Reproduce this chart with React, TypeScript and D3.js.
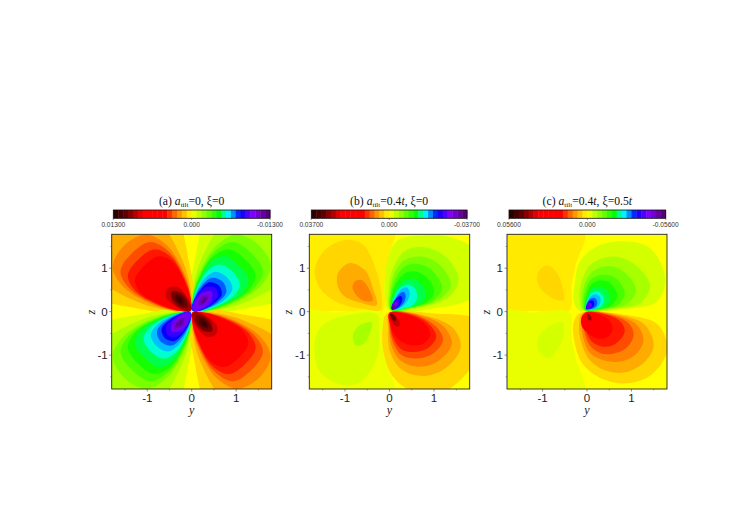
import React from "react";
import * as d3 from "d3";

// colour bar, left (+max) to right (-max)
const colorPos = [0, 0.08, 0.15, 0.19, 0.33, 0.41, 0.5, 0.59, 0.67, 0.73, 0.81, 0.89, 1];
const colorVal = ["#200000", "#600000", "#c00000", "#ff0000", "#ff0000", "#ff8800", "#ffff00", "#80ff00", "#00ff00", "#00ffff", "#0000ff", "#8000ff", "#500060"];
const BANDS = 32;

const majorTicks = [-1, 0, 1];
const minorTicks = [-1.5, -0.5, 0.5, 1.5];

const titlesA = ["(a) ", "=0, ξ=0"];
const titlesB = ["(b) ", "=0.4", ", ξ=0"];
const titlesC = ["(c) ", "=0.4", ", ξ=0.5"];
const barLabelsA = ["0.01300", "0.000", "-0.01300"];
const barLabelsB = ["0.03700", "0.000", "-0.03700"];
const barLabelsC = ["0.05600", "0.000", "-0.05600"];

// panel (a): lobe radius at each angle from the y axis, one row per band
// (first entry is the tip of the lobe next to the origin)
const anglesA = [45, 4, 10, 20, 30, 45, 60, 70, 80, 86];
const radiiA: [number, number[]][] = [
  [1, [0.03, 1.3, 2.6, 3.8, 4.2, 4.2, 4.2, 3.8, 2.6, 1.3]],
  [2, [0.03, 0.6, 1.2, 2.3, 2.9, 3, 2.9, 2.3, 1.2, 0.6]],
  [3, [0.03, 0.33, 0.85, 1.62, 2.05, 2.15, 2.05, 1.62, 0.85, 0.33]],
  [4, [0.03, 0.28, 0.72, 1.45, 1.85, 1.9, 1.85, 1.45, 0.72, 0.28]],
  [5, [0.03, 0.24, 0.62, 1.32, 1.66, 1.7, 1.66, 1.32, 0.62, 0.24]],
  [6, [0.03, 0.2, 0.53, 1.2, 1.47, 1.5, 1.47, 1.2, 0.53, 0.2]],
  [7, [0.03, 0.17, 0.44, 0.97, 1.25, 1.3, 1.25, 0.97, 0.44, 0.17]],
  [8, [0.03, 0.14, 0.35, 0.78, 1.06, 1.12, 1.06, 0.78, 0.35, 0.14]],
  [9, [0.03, 0.12, 0.28, 0.62, 0.9, 0.98, 0.9, 0.62, 0.28, 0.12]],
  [10, [0.04, 0.1, 0.23, 0.5, 0.78, 0.86, 0.78, 0.5, 0.23, 0.1]],
  [11, [0.04, 0.08, 0.19, 0.42, 0.66, 0.76, 0.66, 0.42, 0.19, 0.08]],
  [12, [0.05, 0.07, 0.16, 0.34, 0.52, 0.63, 0.52, 0.34, 0.16, 0.07]],
];

// inner blobs of panel (a), drawn in all four quadrants
const blobsA: [number, number[][]][] = [
  [13, [[0.1, 0.09], [0.12, 0.26], [0.26, 0.42], [0.42, 0.47], [0.47, 0.42], [0.4, 0.26], [0.26, 0.12]]],
  [14, [[0.17, 0.15], [0.17, 0.27], [0.26, 0.36], [0.36, 0.38], [0.38, 0.32], [0.31, 0.21], [0.23, 0.15]]],
  [15, [[0.22, 0.2], [0.22, 0.27], [0.28, 0.33], [0.33, 0.32], [0.32, 0.26], [0.27, 0.21]]],
];

type Contour = [number, number[][]];

// panel (b): level (in colour bar bands) and outline in (y, z)
const contoursB: Contour[] = [
  [0.4, [[-0.15, 0.02], [-0.12, 0.6], [-0.02, 1.3], [0.1, 1.85], [-2.2, 2.2], [-2.2, 0.02], [-1.2, 0.02]]],
  [-0.4, [[-0.15, -0.02], [-0.12, -0.6], [-0.02, -1.3], [0.1, -1.85], [-2.2, -2.2], [-2.2, -0.02], [-1.2, -0.02]]],
  [1, [[-0.2, 0.04], [-0.17, 0.31], [-0.29, 0.92], [-0.59, 1.54], [-1, 1.65], [-1.45, 1.42], [-1.68, 0.96], [-1.56, 0.54], [-1.19, 0.23], [-0.59, 0.06]]],
  [2, [[-0.29, 0.15], [-0.36, 0.5], [-0.55, 0.95], [-0.89, 1.12], [-1.15, 0.9], [-1.17, 0.62], [-1.04, 0.38], [-0.66, 0.21]]],
  [3, [[-0.38, 0.25], [-0.45, 0.5], [-0.62, 0.72], [-0.77, 0.7], [-0.83, 0.54], [-0.62, 0.27]]],
  [-1, [[-0.29, -0.06], [-0.23, -0.38], [-0.29, -1.08], [-0.66, -1.62], [-1.04, -1.69], [-1.56, -1.38], [-1.68, -0.69], [-1.49, -0.31], [-0.96, -0.09]]],
  [-2, [[-0.4, -0.25], [-0.43, -0.46], [-0.6, -0.75], [-0.76, -0.77], [-0.82, -0.55], [-0.66, -0.31]]],
  [-1, [[0, 0.03], [-0.1, 0.3], [-0.1, 0.8], [-0.02, 1.3], [0.2, 1.65], [0.75, 1.75], [1.35, 1.72], [1.9, 1.45], [2.1, 0.9], [1.9, 0.35], [1, 0.08]]],
  [-2, [[0.03, 0.03], [-0.02, 0.5], [0.08, 1], [0.35, 1.4], [0.77, 1.48], [1.25, 1.27], [1.55, 0.75], [1.35, 0.35], [0.7, 0.1]]],
  [-3, [[0.03, 0.03], [0.01, 0.45], [0.1, 0.85], [0.33, 1.18], [0.7, 1.27], [1.1, 1.1], [1.38, 0.63], [1.15, 0.3], [0.6, 0.1]]],
  [-4, [[0.04, 0.04], [0.03, 0.4], [0.13, 0.75], [0.33, 1.03], [0.62, 1.1], [0.95, 0.95], [1.18, 0.55], [1, 0.27], [0.5, 0.1]]],
  [-5, [[0.05, 0.04], [0.05, 0.35], [0.15, 0.65], [0.33, 0.88], [0.55, 0.93], [0.82, 0.8], [1, 0.47], [0.85, 0.23], [0.42, 0.09]]],
  [-6, [[0.05, 0.05], [0.06, 0.3], [0.17, 0.55], [0.33, 0.72], [0.5, 0.76], [0.7, 0.65], [0.82, 0.38], [0.7, 0.19], [0.35, 0.08]]],
  [-7, [[0.06, 0.05], [0.08, 0.25], [0.18, 0.48], [0.32, 0.6], [0.46, 0.62], [0.58, 0.52], [0.62, 0.32], [0.52, 0.15], [0.28, 0.07]]],
  [-8, [[0.06, 0.05], [0.08, 0.2], [0.16, 0.38], [0.27, 0.52], [0.38, 0.56], [0.45, 0.46], [0.42, 0.28], [0.3, 0.13], [0.15, 0.05]]],
  [-9, [[0.06, 0.05], [0.07, 0.17], [0.14, 0.3], [0.23, 0.42], [0.32, 0.45], [0.36, 0.37], [0.33, 0.22], [0.22, 0.1], [0.12, 0.05]]],
  [-10, [[0.06, 0.05], [0.06, 0.15], [0.12, 0.26], [0.19, 0.34], [0.26, 0.36], [0.29, 0.3], [0.25, 0.17], [0.16, 0.08]]],
  [-11, [[0.06, 0.05], [0.05, 0.13], [0.1, 0.23], [0.16, 0.28], [0.21, 0.29], [0.23, 0.24], [0.2, 0.14], [0.13, 0.07]]],
  [-13, [[0.05, 0.05], [0.05, 0.12], [0.08, 0.19], [0.13, 0.22], [0.17, 0.22], [0.17, 0.16], [0.12, 0.08]]],
  [-15, [[0.05, 0.06], [0.06, 0.12], [0.1, 0.16], [0.13, 0.14], [0.11, 0.08]]],
  [1, [[-0.05, -0.03], [-0.15, -0.35], [-0.14, -0.9], [0.08, -1.5], [0.55, -1.85], [1.2, -1.85], [1.75, -1.4], [2.1, -0.8], [2, -0.2], [1, -0.04]]],
  [2, [[0, -0.03], [-0.03, -0.4], [0.02, -0.95], [0.3, -1.35], [0.8, -1.48], [1.3, -1.27], [1.6, -0.8], [1.4, -0.35], [0.7, -0.07]]],
  [3, [[0, -0.03], [-0.01, -0.35], [0.05, -0.8], [0.28, -1.15], [0.68, -1.27], [1.12, -1.12], [1.4, -0.73], [1.2, -0.33], [0.65, -0.07]]],
  [4, [[0, -0.03], [0, -0.3], [0.07, -0.68], [0.27, -1], [0.6, -1.08], [0.97, -0.97], [1.2, -0.65], [1.05, -0.35], [0.6, -0.08]]],
  [5, [[0, -0.03], [0.01, -0.28], [0.08, -0.6], [0.27, -0.87], [0.55, -0.93], [0.85, -0.85], [1.05, -0.58], [0.9, -0.3], [0.55, -0.09]]],
  [6, [[0, -0.03], [0.015, -0.28], [0.1, -0.52], [0.28, -0.7], [0.55, -0.78], [0.78, -0.72], [0.92, -0.54], [0.82, -0.3], [0.5, -0.1]]],
  [9, [[0, -0.03], [0.01, -0.18], [0.08, -0.36], [0.2, -0.46], [0.31, -0.42], [0.27, -0.26], [0.14, -0.08]]],
  [11, [[0.01, -0.04], [0.03, -0.17], [0.1, -0.3], [0.19, -0.35], [0.24, -0.29], [0.17, -0.14], [0.08, -0.05]]],
  [13, [[0.02, -0.05], [0.03, -0.12], [0.08, -0.2], [0.13, -0.22], [0.15, -0.16], [0.09, -0.07]]],
];

// panel (c)
const contoursC: Contour[] = [
  [0.5, [[-0.4, 0.02], [-0.35, 0.6], [-0.25, 1.1], [-0.07, 1.85], [-2.2, 2.2], [-2.2, 0.02], [-1.2, 0.02]]],
  [-0.5, [[-0.4, -0.02], [-0.35, -0.6], [-0.25, -1.1], [-0.07, -1.85], [-2.2, -2.2], [-2.2, -0.02], [-1.2, -0.02]]],
  [1, [[-0.53, 0.27], [-0.55, 0.54], [-0.65, 0.85], [-0.87, 1.06], [-1.07, 0.96], [-1.12, 0.69], [-0.98, 0.46], [-0.68, 0.27]]],
  [-1, [[-1.12, -0.77], [-1.06, -0.54], [-0.87, -0.35], [-0.55, -0.25], [-0.53, -0.54], [-0.65, -0.85], [-0.83, -1.06], [-1.02, -1]]],
  [-1, [[-0.18, 0.03], [-0.3, 0.25], [-0.28, 0.6], [-0.16, 1.15], [0.22, 1.5], [0.82, 1.62], [1.42, 1.46], [1.76, 0.77], [1.57, 0.23], [0.82, 0.06]]],
  [-2, [[-0.1, 0.04], [-0.17, 0.3], [-0.12, 0.7], [0.1, 1.1], [0.6, 1.27], [1.05, 1.1], [1.42, 0.6], [1.2, 0.2], [0.6, 0.06]]],
  [-3, [[-0.07, 0.04], [-0.12, 0.25], [-0.07, 0.58], [0.1, 0.9], [0.48, 1.05], [0.85, 0.9], [1.1, 0.5], [0.9, 0.18], [0.45, 0.06]]],
  [-4, [[-0.05, 0.04], [-0.08, 0.22], [-0.03, 0.5], [0.1, 0.75], [0.38, 0.85], [0.67, 0.75], [0.85, 0.42], [0.7, 0.16], [0.35, 0.06]]],
  [-5, [[-0.04, 0.04], [-0.05, 0.2], [0, 0.42], [0.1, 0.63], [0.32, 0.72], [0.55, 0.63], [0.68, 0.37], [0.55, 0.14], [0.28, 0.06]]],
  [-6, [[-0.03, 0.04], [-0.03, 0.18], [0.01, 0.36], [0.1, 0.52], [0.26, 0.58], [0.43, 0.5], [0.52, 0.3], [0.42, 0.12], [0.2, 0.05]]],
  [-7, [[-0.02, 0.05], [-0.02, 0.16], [0.02, 0.3], [0.1, 0.43], [0.22, 0.47], [0.34, 0.4], [0.38, 0.25], [0.3, 0.11], [0.15, 0.06]]],
  [-8, [[-0.02, 0.05], [-0.02, 0.14], [0.02, 0.26], [0.1, 0.37], [0.2, 0.4], [0.29, 0.34], [0.3, 0.2], [0.22, 0.09], [0.1, 0.05]]],
  [-9, [[-0.02, 0.06], [-0.02, 0.13], [0.02, 0.22], [0.08, 0.3], [0.16, 0.32], [0.22, 0.26], [0.22, 0.15], [0.14, 0.08]]],
  [-10, [[-0.02, 0.06], [-0.01, 0.14], [0.03, 0.22], [0.09, 0.26], [0.15, 0.24], [0.16, 0.15], [0.09, 0.08]]],
  [-12, [[-0.01, 0.07], [0, 0.14], [0.04, 0.2], [0.09, 0.2], [0.11, 0.14], [0.06, 0.08]]],
  [-14, [[0, 0.08], [0.01, 0.13], [0.04, 0.16], [0.07, 0.14], [0.04, 0.09]]],
  [1, [[-0.15, -0.03], [-0.3, -0.25], [-0.28, -0.7], [-0.1, -1.2], [0.35, -1.55], [0.9, -1.65], [1.45, -1.45], [1.8, -0.9], [1.6, -0.3], [0.85, -0.07]]],
  [2, [[-0.1, -0.03], [-0.18, -0.3], [-0.13, -0.7], [0.05, -1.1], [0.4, -1.35], [0.85, -1.4], [1.25, -1.2], [1.5, -0.8], [1.3, -0.3], [0.7, -0.07]]],
  [3, [[-0.07, -0.03], [-0.12, -0.3], [-0.07, -0.65], [0.07, -0.95], [0.38, -1.12], [0.75, -1.15], [1.1, -0.98], [1.27, -0.65], [1.1, -0.28], [0.6, -0.07]]],
  [4, [[-0.05, -0.03], [-0.08, -0.28], [-0.03, -0.57], [0.1, -0.82], [0.35, -0.97], [0.65, -0.95], [0.92, -0.8], [1.05, -0.52], [0.92, -0.25], [0.5, -0.07]]],
  [5, [[-0.04, -0.03], [-0.05, -0.25], [0, -0.5], [0.12, -0.7], [0.33, -0.8], [0.57, -0.78], [0.77, -0.62], [0.85, -0.42], [0.72, -0.2], [0.4, -0.06]]],
  [6, [[-0.03, -0.03], [-0.12, -0.12], [-0.12, -0.33], [0.03, -0.5], [0.25, -0.62], [0.47, -0.58], [0.58, -0.4], [0.48, -0.18], [0.25, -0.06]]],
  [10, [[0, -0.04], [-0.02, -0.12], [0.02, -0.22], [0.09, -0.26], [0.14, -0.18], [0.09, -0.08]]],
  [12, [[0.01, -0.05], [0.01, -0.12], [0.04, -0.19], [0.09, -0.2], [0.1, -0.13], [0.05, -0.07]]],
];

const colorScale = d3.scaleLinear<string>().domain(colorPos).range(colorVal).interpolate(d3.interpolateRgb);
const levelColor = (k: number) => colorScale(0.5 - k / BANDS);

// four lobes of panel (a) from the one radius table
const quadrantsA = [[1, 1], [-1, 1], [-1, -1], [1, -1]];
const contoursA: Contour[] = quadrantsA.flatMap(([sy, sz]) => [
  ...radiiA.map(([k, radii]): Contour => [
    -sy * sz * k,
    anglesA.map((a, i) => [sy * radii[i] * Math.cos((a * Math.PI) / 180), sz * radii[i] * Math.sin((a * Math.PI) / 180)]),
  ]),
  ...blobsA.map(([k, pts]): Contour => [-sy * sz * k, pts.map(([py, pz]) => [sy * py, sz * pz])]),
]);

const bandIds = d3.range(BANDS);
const serif = "'Liberation Serif', serif";
const sans = "'Liberation Sans', sans-serif";
const frameTop = 234.3;
const frameBottom = 389;

function Panel({ id, left, right, barLeft, barRight, contours, labels, title }: any) {
  const x = d3.scaleLinear().domain([-1.8, 1.8]).range([left, right]);
  const y = d3.scaleLinear().domain([-1.78, 1.78]).range([frameBottom, frameTop]);
  const barX = d3.scaleBand<number>().domain(bandIds).range([barLeft, barRight]);
  const line = d3.line<number[]>().x((d) => x(d[0])).y((d) => y(d[1])).curve(d3.curveCatmullRomClosed.alpha(0.5));
  const ordered = d3.sort(contours as Contour[], (c: Contour) => Math.abs(c[0]));
  const barMid = (barLeft + barRight) / 2;

  return (
    <g>
      <text x={barMid} y={205} textAnchor="middle" fontFamily={serif} fontSize={11.7} fill="#111">
        {title[0]}
        <tspan fontStyle="italic">a</tspan>
        <tspan fontSize={7} dy={2}>tilt</tspan>
        <tspan dy={-2}>{title[1]}</tspan>
        {title[2] && <tspan fontStyle="italic">t</tspan>}
        {title[2]}
        {id === "c" && <tspan fontStyle="italic">t</tspan>}
      </text>
      {bandIds.map((b) => (
        <rect key={b} x={barX(b)} y={210} width={barX.bandwidth() + 0.4} height={8.3} fill={colorScale((b + 0.5) / BANDS)} />
      ))}
      <rect x={barLeft} y={210} width={barRight - barLeft} height={8.3} fill="none" stroke="#111" strokeWidth={0.8} />
      {[barLeft, barMid, barRight].map((p, i) => (
        <g key={i}>
          <line x1={p} x2={p} y1={218.3} y2={220} stroke="#333" strokeWidth={0.5} />
          <text x={p} y={227} textAnchor="middle" fontFamily={sans} fontSize={6.6} fill="#333">{labels[i]}</text>
        </g>
      ))}

      <clipPath id={`clip-${id}`}>
        <rect x={left} y={frameTop} width={right - left} height={frameBottom - frameTop} />
      </clipPath>
      <g clipPath={`url(#clip-${id})`}>
        <rect x={left} y={frameTop} width={right - left} height={frameBottom - frameTop} fill={levelColor(0)} />
        {ordered.map(([k, pts]: Contour, i: number) => (
          <path key={i} d={line(pts) || ""} fill={levelColor(k)} />
        ))}
      </g>
      <rect x={left} y={frameTop} width={right - left} height={frameBottom - frameTop} fill="none" stroke="#222" strokeWidth={0.9} />

      {majorTicks.map((t) => (
        <g key={t}>
          <line x1={x(t)} x2={x(t)} y1={frameBottom} y2={frameBottom + 2.5} stroke="#444" strokeWidth={0.6} />
          <line x1={left} x2={left - 2.5} y1={y(t)} y2={y(t)} stroke="#444" strokeWidth={0.6} />
          <text x={x(t)} y={402} textAnchor="middle" fontFamily={sans} fontSize={11.5} fill="#222">{t}</text>
          <text x={left - 4} y={y(t) + 4} textAnchor="end" fontFamily={sans} fontSize={11.5} fill="#222">{t}</text>
        </g>
      ))}
      {minorTicks.map((t) => (
        <g key={t}>
          <line x1={x(t)} x2={x(t)} y1={frameBottom} y2={frameBottom + 1.5} stroke="#444" strokeWidth={0.5} />
          <line x1={left} x2={left - 1.5} y1={y(t)} y2={y(t)} stroke="#444" strokeWidth={0.5} />
        </g>
      ))}
      <text x={x(0)} y={414} textAnchor="middle" fontFamily={serif} fontStyle="italic" fontSize={12} fill="#222">y</text>
      <text transform={`translate(${left - 17},${y(0) + 0.5}) rotate(-90)`} textAnchor="middle" fontFamily={serif} fontStyle="italic" fontSize={12} fill="#222">z</text>
    </g>
  );
}

export default function App() {
  return (
    <svg width={742} height={519} style={{ position: "absolute", left: 0, top: 0, background: "#fff" }}>
      <Panel id="a" left={111.7} right={271.7} barLeft={113.3} barRight={270} contours={contoursA} labels={barLabelsA} title={titlesA} />
      <Panel id="b" left={309.3} right={469.7} barLeft={311.3} barRight={467} contours={contoursB} labels={barLabelsB} title={titlesB} />
      <Panel id="c" left={507} right={667} barLeft={509} barRight={665.7} contours={contoursC} labels={barLabelsC} title={titlesC} />
    </svg>
  );
}
